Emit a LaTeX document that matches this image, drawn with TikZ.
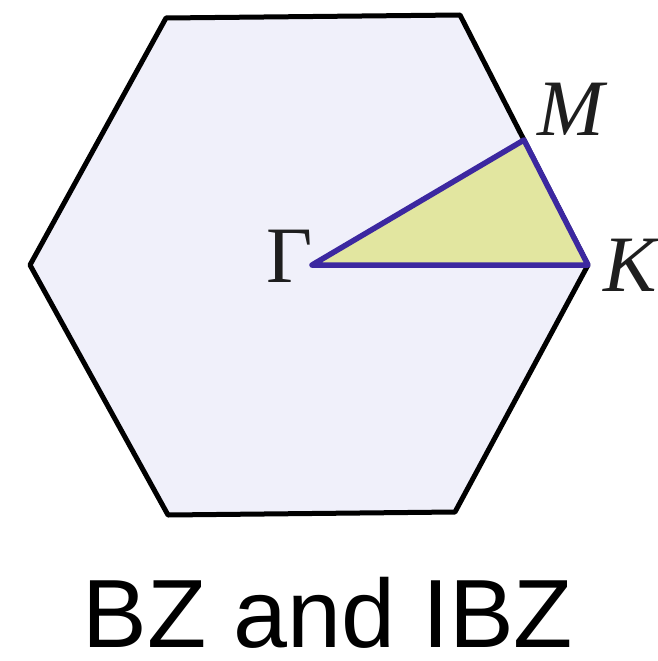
\documentclass[tikz,border=0pt]{standalone}
\usepackage{fontspec}
\usetikzlibrary{calc}
\newfontfamily\capfont{Liberation Sans}
\newfontfamily\lblfont{Liberation Serif}
\begin{document}
\begin{tikzpicture}[x=1pt,y=-1pt,
  hexline/.style={draw=black,line width=5pt,line join=round,fill=hexfill},
  ibzline/.style={draw=ibzblue,line width=5.5pt,line join=round,fill=ibzfill},
  lbl/.style={inner sep=0pt,anchor=base west,text=lblgray,font=\lblfont\fontsize{80}{80}\selectfont}]
\definecolor{hexfill}{RGB}{240,240,250}
\definecolor{ibzfill}{RGB}{226,230,160}
\definecolor{ibzblue}{RGB}{60,40,160}
\definecolor{lblgray}{RGB}{30,30,30}
\useasboundingbox (0,0) rectangle (657,661);
\coordinate (A) at (166,18);
\coordinate (B) at (460,15);
\coordinate (K) at (588,265);
\coordinate (D) at (455,512);
\coordinate (E) at (168,515);
\coordinate (F) at (30,265);
\coordinate (G) at (312,265);
\coordinate (M) at ($(B)!0.5!(K)$);
\path[hexline] (A) -- (B) -- (K) -- (D) -- (E) -- (F) -- cycle;
\path[ibzline] (G) -- (M) -- (K) -- cycle;
\node[lbl] (lM) at (537,135) {\itshape M};
\node[lbl] (lK) at (603,291) {\itshape K};
\node[lbl] (lG) at (266,282) {Γ};
\node[inner sep=0pt,anchor=base,text depth=0pt,font=\capfont\fontsize{97}{97}\selectfont] (cap) at (328,647) {BZ and IBZ};
\end{tikzpicture}
\end{document}
